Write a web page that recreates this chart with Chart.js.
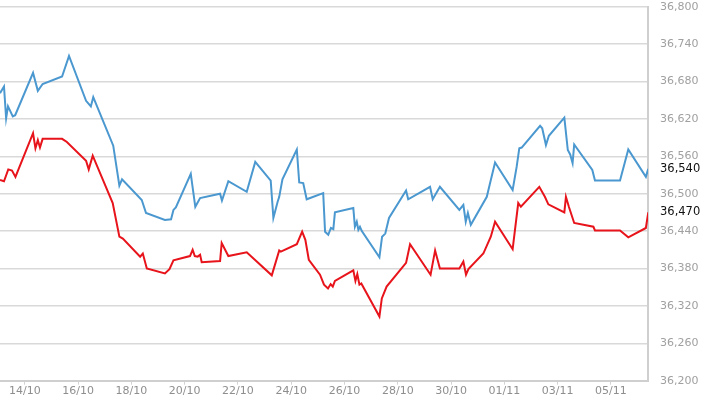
<!DOCTYPE html>
<html>
<head>
<meta charset="utf-8">
<script src="https://cdn.jsdelivr.net/npm/chart.js@4/dist/chart.umd.min.js"></script>
<style>
html,body{margin:0;padding:0;background:#fff;}
#wrap{position:relative;width:706px;height:397px;}
</style>
</head>
<body>
<div id="wrap"><canvas id="c" width="706" height="397"></canvas></div>
<script>
// time in days (day-of-month counted from 1 Oct; 32 = 01/11)
const blueTime = [13.07,13.22,13.30,13.37,13.55,13.64,14.31,14.49,14.67,15.40,15.66,16.30,16.48,16.57,17.32,17.55,17.65,18.39,18.55,19.26,19.49,19.58,19.67,20.23,20.40,20.58,21.33,21.40,21.64,22.33,22.65,23.23,23.33,23.49,23.55,23.67,24.21,24.30,24.45,24.58,25.20,25.27,25.39,25.49,25.58,25.64,26.33,26.39,26.46,26.52,26.58,26.65,27.31,27.41,27.53,27.67,28.31,28.39,29.21,29.31,29.58,30.31,30.46,30.55,30.63,30.74,31.34,31.43,31.65,32.31,32.46,32.56,32.65,33.34,33.42,33.56,33.67,34.25,34.38,34.47,34.56,34.62,35.30,35.40,36.34,36.65,37.31,37.40];
const blueValues = [36661,36672,36621,36640,36624,36626,36694,36665,36676,36688,36721,36649,36640,36655,36577,36513,36523,36490,36469,36458,36459,36474,36478,36532,36479,36493,36500,36489,36520,36503,36551,36521,36461,36487,36495,36523,36571,36518,36517,36491,36501,36439,36434,36445,36443,36470,36477,36447,36455,36442,36447,36440,36398,36431,36436,36461,36505,36491,36511,36491,36511,36474,36482,36455,36469,36450,36495,36511,36550,36506,36543,36573,36574,36609,36605,36578,36593,36622,36570,36563,36549,36579,36538,36521,36521,36571,36527,36540];
const redTime = [13.07,13.22,13.38,13.52,13.65,14.31,14.40,14.49,14.57,14.67,15.40,15.58,16.30,16.40,16.55,17.30,17.55,17.68,18.33,18.43,18.58,19.26,19.43,19.58,20.20,20.30,20.38,20.49,20.58,20.64,21.33,21.39,21.64,22.33,23.27,23.55,23.61,24.21,24.41,24.53,24.66,25.08,25.23,25.38,25.48,25.56,25.64,26.33,26.41,26.48,26.56,26.63,27.31,27.40,27.58,28.31,28.46,29.23,29.40,29.58,30.31,30.46,30.56,30.65,31.21,31.49,31.65,32.31,32.52,32.62,33.31,33.52,33.65,34.25,34.31,34.42,34.62,35.34,35.40,36.34,36.65,37.31,37.40];
const redValues = [36522,36520,36539,36537,36527,36597,36573,36586,36574,36588,36588,36583,36553,36539,36561,36485,36431,36428,36399,36404,36380,36372,36379,36393,36400,36410,36400,36399,36402,36390,36392,36421,36400,36406,36369,36409,36407,36419,36439,36426,36394,36370,36354,36348,36355,36351,36360,36377,36360,36371,36354,36356,36303,36332,36351,36389,36419,36370,36409,36380,36380,36391,36370,36379,36404,36431,36455,36411,36485,36479,36511,36495,36483,36470,36495,36479,36453,36447,36441,36441,36430,36445,36470];
const tickDays = [14,16,18,20,22,24,26,28,30,32,34,36];
const tickLabels = ['14/10','16/10','18/10','20/10','22/10','24/10','26/10','28/10','30/10','01/11','03/11','05/11'];
const yMin = 36200, yMax = 36800, yStep = 60;

const fmt = v => { const s = String(Math.round(v)); return s.slice(0, s.length-3) + ',' + s.slice(-3); };

const lastLabels = {
  id: 'lastLabels',
  afterDraw(chart) {
    const ctx = chart.ctx, ys = chart.scales.y, area = chart.chartArea;
    ctx.save();
    ctx.font = '11.5px "DejaVu Sans"';
    ctx.fillStyle = '#111111';
    ctx.textBaseline = 'middle';
    ctx.textAlign = 'left';
    [blueValues, redValues].forEach(arr => {
      const v = arr[arr.length-1];
      ctx.fillText(fmt(v), area.right + 12, ys.getPixelForValue(v));
    });
    ctx.restore();
  }
};

new Chart(document.getElementById('c'), {
  type: 'line',
  data: {
    datasets: [
      { data: blueTime.map((t,i)=>({x:t,y:blueValues[i]})), borderColor: '#4a98cf', borderWidth: 2, pointRadius: 0, tension: 0, fill: false },
      { data: redTime.map((t,i)=>({x:t,y:redValues[i]})), borderColor: '#e8141b', borderWidth: 2, pointRadius: 0, tension: 0, fill: false }
    ]
  },
  options: {
    responsive: false,
    animation: false,
    layout: { autoPadding: false, padding: { top: 6.7, left: 0, right: 0, bottom: 0 } },
    plugins: { legend: { display: false }, tooltip: { enabled: false } },
    scales: {
      x: {
        type: 'linear',
        min: 13.07, max: 37.39,
        afterBuildTicks: s => { s.ticks = tickDays.map(v => ({ value: v })); },
        afterFit: s => { s.height = 16.3; },
        grid: { drawOnChartArea: false, drawTicks: true, tickLength: 4, color: '#d4d4d4' },
        border: { display: true, color: '#cfcfcf', width: 2 },
        ticks: {
          padding: 0, maxRotation: 0, autoSkip: false,
          color: '#8e8e8e', font: { family: 'DejaVu Sans', size: 11 },
          callback: v => { const i = tickDays.indexOf(v); return i >= 0 ? tickLabels[i] : ''; }
        }
      },
      y: {
        position: 'right',
        min: yMin, max: yMax,
        afterFit: s => { s.width = 58; },
        grid: { color: '#d9d9d9', lineWidth: 1.5, drawTicks: true, tickLength: 12, tickColor: 'rgba(0,0,0,0)' },
        border: { display: true, color: '#cfcfcf', width: 2 },
        ticks: {
          stepSize: yStep, padding: 0,
          color: '#a0a0a0', font: { family: 'DejaVu Sans', size: 11 },
          callback: v => fmt(v)
        }
      }
    }
  },
  plugins: [lastLabels]
});
</script>
</body>
</html>
